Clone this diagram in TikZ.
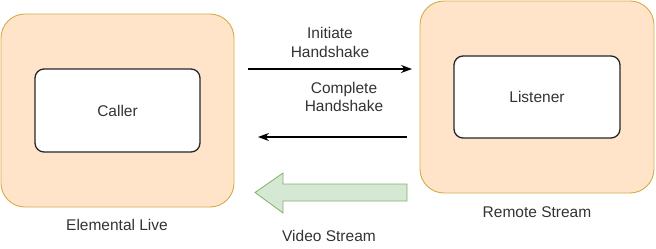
\documentclass[tikz,border=0pt]{standalone}
\usepackage{fontspec}
\setmainfont{Liberation Sans}
\usetikzlibrary{arrows.meta}
\definecolor{groupfill}{HTML}{FFE4CA}
\definecolor{groupline}{HTML}{D5AC45}
\definecolor{streamfill}{HTML}{D5E8D4}
\definecolor{streamline}{HTML}{82B366}
\tikzset{
  group/.style={draw=groupline, fill=groupfill, line width=0.9pt, rounded corners=24pt},
  role/.style={draw=black!85, fill=white, line width=1.3pt, rounded corners=9pt},
  lbl/.style={font=\fontsize{15.5}{18.5}\selectfont, text=black!80, align=center, inner sep=0pt},
  msg/.style={-{Stealth[length=11pt,width=8pt]}, line width=1.1pt, black},
}
\begin{document}
\begin{tikzpicture}[x=1pt,y=-1pt]
\useasboundingbox (0,0) rectangle (656,249);
% endpoint groups
\draw[group] (1,14) rectangle (234,207);
\draw[group] (420,1) rectangle (654,193);
% roles
\draw[role] (35,69) rectangle (200,152);
\draw[role] (454,56) rectangle (620,138);
\node[lbl] (caller) at (117.5,110.5) {Caller};
\node[lbl] (listener) at (537,97) {Listener};
\node[lbl] (elive) at (117,225) {Elemental Live};
\node[lbl] (remote) at (537,212) {Remote Stream};
% handshake messages
\coordinate (i1) at (248,69);
\coordinate (i2) at (412,69);
\coordinate (c1) at (407,137);
\coordinate (c2) at (258,137);
\draw[msg] (i1) -- (i2);
\draw[msg] (c1) -- (c2);
\node[lbl] (init) at (330,42.5) {Initiate\\Handshake};
\node[lbl] (comp) at (344,97) {Complete\\Handshake};
% video stream block arrow
\draw[draw=streamline, fill=streamfill, line width=0.8pt, line join=miter]
  (407,184) -- (283,184) -- (283,173) -- (255,192.5) -- (283,213) -- (283,201) -- (407,201) -- cycle;
\node[lbl] (video) at (329,236) {Video Stream};
\end{tikzpicture}
\end{document}
